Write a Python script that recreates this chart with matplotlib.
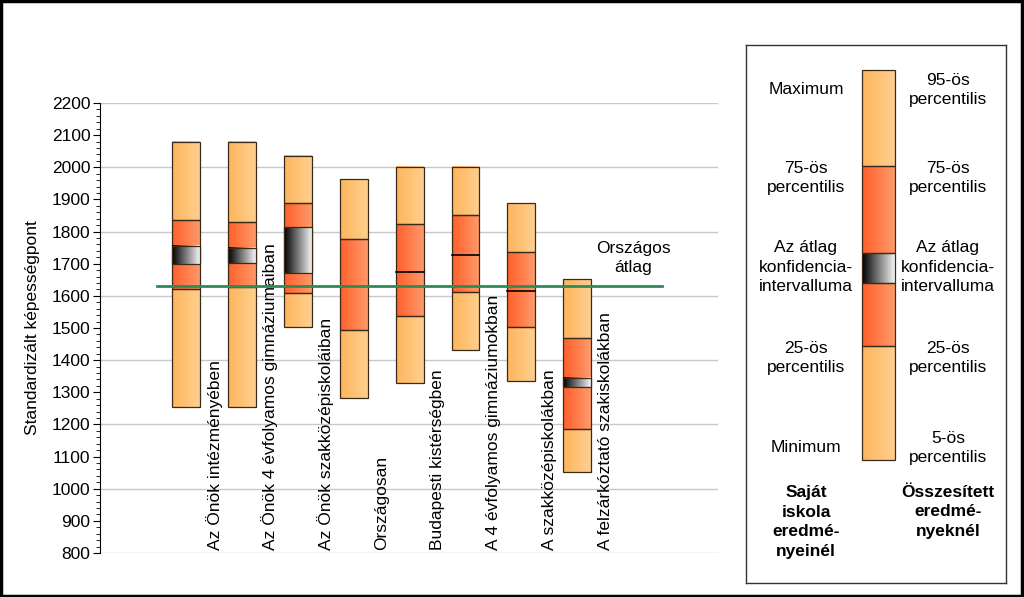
import numpy as np
import matplotlib
matplotlib.use('Agg')
import matplotlib.pyplot as plt
from matplotlib.patches import Rectangle
from matplotlib.ticker import MultipleLocator

plt.rcParams['font.family'] = ['Liberation Sans', 'DejaVu Sans']

# data
categories = ['Az Önök intézményében', 'Az Önök 4 évfolyamos gimnáziumaiban',
              'Az Önök szakközépiskoláiban', 'Országosan', 'Budapesti kistérségben',
              'A 4 évfolyamos gimnáziumokban', 'A szakközépiskolákban',
              'A felzárkóztató szakiskolákban']
p_low = [1255, 1255, 1504, 1282, 1329, 1430, 1336, 1053]     # minimum / 5th pct
p25 = [1620, 1628, 1608, 1493, 1536, 1613, 1504, 1187]
conf_low = [1698, 1701, 1670, 1630, 1673, 1725, 1614, 1315]
conf_high = [1756, 1750, 1813, 1630, 1677, 1729, 1618, 1345]
p75 = [1836, 1829, 1888, 1778, 1822, 1850, 1736, 1468]
p_high = [2079, 2078, 2035, 1963, 2000, 2002, 1888, 1651]   # maximum / 95th pct
national_avg = 1631

ORANGE = ('#fdb55c', '#ffcf8f')
RED = ('#ff5f2a', '#ff9a6a')
CONF = ('#000000', '#f4f4f4')
EDGE = '#3a2a1a'


def grad_rect(ax, x0, x1, y0, y1, cols, z=2):
    c0 = np.array(matplotlib.colors.to_rgb(cols[0]))
    c1 = np.array(matplotlib.colors.to_rgb(cols[1]))
    t = np.linspace(0, 1, 64)[None, :, None]
    img = c0 + (c1 - c0) * t
    ax.imshow(img, extent=(x0, x1, min(y0, y1), max(y0, y1)), aspect='auto',
              origin='lower', zorder=z, interpolation='bilinear')
    ax.add_patch(Rectangle((x0, min(y0, y1)), x1 - x0, abs(y1 - y0), fill=False,
                           edgecolor=EDGE, lw=0.9, zorder=z + 0.5))


fig = plt.figure(figsize=(10.24, 5.97), dpi=100)
ax = fig.add_axes([0.0977, 0.0737, 0.6035, 0.7538])

w = 0.25
for i in range(len(categories)):
    grad_rect(ax, i - w, i + w, p_low[i], p25[i], ORANGE)
    grad_rect(ax, i - w, i + w, p25[i], p75[i], RED)
    grad_rect(ax, i - w, i + w, p75[i], p_high[i], ORANGE)
    if conf_high[i] - conf_low[i] > 8:
        grad_rect(ax, i - w, i + w, conf_low[i], conf_high[i], CONF, z=3)
    elif conf_high[i] > conf_low[i]:
        ax.plot([i - w, i + w], [conf_low[i] + 1, conf_low[i] + 1], color='black', lw=1.2, zorder=4)
    ax.text(i + 0.5, 808, categories[i], rotation=90, ha='center', va='bottom', fontsize=12.5)

ax.plot([-0.52, 8.52], [national_avg, national_avg], color='#2e8b57', lw=2, zorder=5)
ax.text(8.0, 1718, 'Országos\nátlag', ha='center', va='center', fontsize=12.5, linespacing=1.3)

ax.set_xlim(-1.54, 9.52)
ax.set_ylim(800, 2200)
ax.yaxis.set_major_locator(MultipleLocator(100))
ax.yaxis.set_minor_locator(MultipleLocator(20))
ax.set_xticks([])
for v in range(800, 2201, 200):
    ax.axhline(v, color='#c8c8c8', lw=1, zorder=0)
for s in ['top', 'right', 'bottom']:
    ax.spines[s].set_visible(False)
ax.tick_params(axis='y', which='major', length=5, labelsize=12.5, pad=2)
ax.tick_params(axis='y', which='minor', length=3)
ax.set_ylabel('Standardizált képességpont', fontsize=12.5, labelpad=8)

# legend panel
leg_bounds = [460, 346, 283, 253, 166, 70]
left_txt = ['Minimum', '25-ös\npercentilis', 'Az átlag\nkonfidencia-\nintervalluma',
            '75-ös\npercentilis', 'Maximum']
right_txt = ['5-ös\npercentilis', '25-ös\npercentilis', 'Az átlag\nkonfidencia-\nintervalluma',
             '75-ös\npercentilis', '95-ös\npercentilis']
text_y = [448, 358, 267, 178, 90]

lx = fig.add_axes([746 / 1024, 1 - 583 / 597, 260 / 1024, 538 / 597])
lx.set_xlim(746, 1006)
lx.set_ylim(583, 45)
lx.set_xticks([])
lx.set_yticks([])
for s in lx.spines.values():
    s.set_color('#333333')
    s.set_linewidth(1)
cols = [ORANGE, RED, CONF, RED, ORANGE]
for k in range(5):
    grad_rect(lx, 862, 895, leg_bounds[k], leg_bounds[k + 1], cols[k])
    lx.text(806, text_y[k], left_txt[k], ha='center', va='center', fontsize=12.5, linespacing=1.38)
    lx.text(948, text_y[k], right_txt[k], ha='center', va='center', fontsize=12.5, linespacing=1.38)
lx.text(806, 522, 'Saját\niskola\neredmé-\nnyeinél', ha='center', va='center',
        fontsize=12.5, fontweight='bold', linespacing=1.38)
lx.text(948, 512, 'Összesített\neredmé-\nnyeknél', ha='center', va='center',
        fontsize=12.5, fontweight='bold', linespacing=1.38)

fig.patches.append(Rectangle((0.001, 0.002), 0.997, 0.996, transform=fig.transFigure,
                             fill=False, edgecolor='black', lw=2.5))

fig.savefig('out.png', dpi=100)
